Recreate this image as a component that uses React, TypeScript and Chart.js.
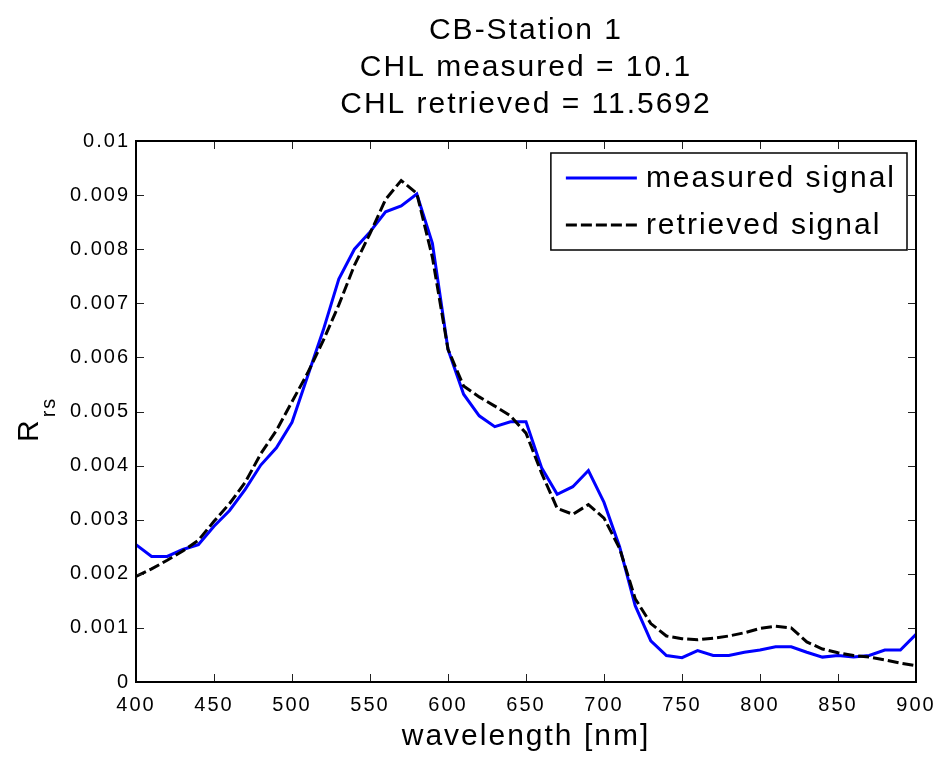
import React, { useEffect, useRef } from 'react';
import { Chart, registerables } from 'chart.js';

Chart.register(...registerables);

const wavelengths = [
  400, 410, 420, 430, 440, 450, 460, 470, 480, 490,
  500, 510, 520, 530, 540, 550, 560, 570, 580, 590,
  600, 610, 620, 630, 640, 650, 660, 670, 680, 690,
  700, 710, 720, 730, 740, 750, 760, 770, 780, 790,
  800, 810, 820, 830, 840, 850, 860, 870, 880, 890, 900,
];

const measuredSignal = [
  0.00254, 0.00232, 0.00232, 0.00245, 0.00254, 0.00288, 0.00317, 0.00356, 0.00401, 0.00433,
  0.0048, 0.00565, 0.0065, 0.00745, 0.008, 0.00832, 0.00869, 0.0088, 0.00902, 0.00811,
  0.00615, 0.00532, 0.00492, 0.00472, 0.00481, 0.00481, 0.00396, 0.00347, 0.00361, 0.00391,
  0.00332, 0.0025, 0.00141, 0.00076, 0.00049, 0.00045, 0.00058, 0.00049, 0.00049, 0.00055,
  0.00059, 0.00065, 0.00065, 0.00055, 0.00046, 0.00049, 0.00046, 0.00049, 0.00059, 0.00059, 0.00088,
];

const retrievedSignal = [
  0.00195, 0.00209, 0.00225, 0.00242, 0.00262, 0.00297, 0.0033, 0.00369, 0.00422, 0.00465,
  0.00518, 0.00571, 0.00631, 0.00697, 0.0077, 0.00829, 0.00892, 0.00927, 0.00903, 0.00785,
  0.00615, 0.00547, 0.00527, 0.0051, 0.00492, 0.0046, 0.00386, 0.00321, 0.0031, 0.00328,
  0.00303, 0.00247, 0.00154, 0.00108, 0.00085, 0.0008, 0.00078, 0.00081, 0.00085, 0.00091,
  0.00099, 0.00103, 0.001, 0.00074, 0.00061, 0.00054, 0.00049, 0.00046, 0.00041, 0.00035, 0.0003,
];

const xTickValues = [400, 450, 500, 550, 600, 650, 700, 750, 800, 850, 900];
const yTickValues = [0, 0.001, 0.002, 0.003, 0.004, 0.005, 0.006, 0.007, 0.008, 0.009, 0.01];
const yTickLabels = ['0', '0.001', '0.002', '0.003', '0.004', '0.005', '0.006', '0.007', '0.008', '0.009', '0.01'];

const titleLines = ['CB-Station 1', 'CHL measured = 10.1', 'CHL retrieved = 11.5692'];
const xAxisLabel = 'wavelength [nm]';
const yAxisLabelMain = 'R';
const yAxisLabelSub = 'rs';
const seriesLabels = ['measured signal', 'retrieved signal'];

const FONT = '"Liberation Sans", Arial, Helvetica, sans-serif';
const SPACING = '2px';

const matlabPlugin = {
  id: 'matlabDecor',
  beforeUpdate(chart: any) {
    chart.ctx.letterSpacing = SPACING;
  },
  beforeDraw(chart: any) {
    chart.ctx.letterSpacing = SPACING;
  },
  afterDraw(chart: any) {
    const { ctx, chartArea } = chart;
    const { left, right, top, bottom } = chartArea;
    const xs = chart.scales.x;
    const ys = chart.scales.y;
    ctx.save();
    ctx.letterSpacing = SPACING;

    // inward ticks on all four sides
    ctx.strokeStyle = '#222';
    ctx.lineWidth = 1;
    const tl = 8;
    ctx.beginPath();
    xTickValues.forEach((v) => {
      const px = Math.round(xs.getPixelForValue(v)) + 0.5;
      ctx.moveTo(px, bottom);
      ctx.lineTo(px, bottom - tl);
      ctx.moveTo(px, top);
      ctx.lineTo(px, top + tl);
    });
    yTickValues.forEach((v) => {
      const py = Math.round(ys.getPixelForValue(v)) + 0.5;
      ctx.moveTo(left, py);
      ctx.lineTo(left + tl, py);
      ctx.moveTo(right, py);
      ctx.lineTo(right - tl, py);
    });
    ctx.stroke();

    // frame
    ctx.strokeStyle = '#000';
    ctx.lineWidth = 2;
    ctx.strokeRect(left, top, right - left, bottom - top);

    // legend box (MATLAB style, top-right)
    ctx.font = `30px ${FONT}`;
    const textW = Math.max(...seriesLabels.map((s) => ctx.measureText(s).width));
    const boxRight = right - 9;
    const boxTop = top + 12;
    const sampleLen = 71;
    const boxLeft = boxRight - (15 + sampleLen + 8 + textW + 12);
    const boxH = 97;
    ctx.fillStyle = '#fff';
    ctx.fillRect(boxLeft, boxTop, boxRight - boxLeft, boxH);
    ctx.strokeStyle = '#000';
    ctx.lineWidth = 1.5;
    ctx.strokeRect(boxLeft, boxTop, boxRight - boxLeft, boxH);
    const rows = [boxTop + 25, boxTop + 72];
    chart.data.datasets.forEach((ds: any, i: number) => {
      const yRow = rows[i];
      ctx.save();
      ctx.strokeStyle = ds.borderColor;
      ctx.lineWidth = ds.borderWidth;
      ctx.setLineDash(ds.borderDash || []);
      ctx.beginPath();
      ctx.moveTo(boxLeft + 15, yRow);
      ctx.lineTo(boxLeft + 15 + sampleLen, yRow);
      ctx.stroke();
      ctx.restore();
      ctx.fillStyle = '#000';
      ctx.textAlign = 'left';
      ctx.textBaseline = 'middle';
      ctx.fillText(ds.label, boxLeft + 15 + sampleLen + 9, yRow + 1);
    });

    // y-axis label R_rs (rotated)
    ctx.save();
    ctx.translate(38, 442);
    ctx.rotate(-Math.PI / 2);
    ctx.fillStyle = '#000';
    ctx.textAlign = 'left';
    ctx.textBaseline = 'alphabetic';
    ctx.font = `30px ${FONT}`;
    ctx.fillText(yAxisLabelMain, 0, 0);
    const rW = ctx.measureText(yAxisLabelMain).width;
    ctx.font = `20px ${FONT}`;
    ctx.fillText(yAxisLabelSub, rW + 1, 17);
    ctx.restore();

    ctx.restore();
  },
};

export default function App() {
  const canvasRef = useRef<HTMLCanvasElement | null>(null);

  useEffect(() => {
    const canvas = canvasRef.current;
    if (!canvas) return;
    const chart = new Chart(canvas, {
      type: 'line',
      data: {
        datasets: [
          {
            label: seriesLabels[0],
            data: wavelengths.map((w, i) => ({ x: w, y: measuredSignal[i] })),
            borderColor: '#0000ff',
            borderWidth: 3,
            pointRadius: 0,
            tension: 0,
            fill: false,
            order: 1,
          },
          {
            label: seriesLabels[1],
            data: wavelengths.map((w, i) => ({ x: w, y: retrievedSignal[i] })),
            borderColor: '#000000',
            borderWidth: 3,
            borderDash: [11, 4],
            pointRadius: 0,
            tension: 0,
            fill: false,
            order: 0,
          },
        ],
      },
      options: {
        animation: false,
        responsive: false,
        devicePixelRatio: 1,
        layout: { padding: { left: 0, right: 21, top: 0, bottom: 0 } },
        plugins: {
          legend: { display: false },
          tooltip: { enabled: false },
          title: {
            display: true,
            text: titleLines,
            fullSize: false,
            color: '#000',
            font: { family: FONT, size: 30, weight: 'normal', lineHeight: 37 / 30 },
            padding: { top: 12, bottom: 18 },
          },
        },
        scales: {
          x: {
            type: 'linear',
            min: 400,
            max: 900,
            afterBuildTicks: (s: any) => {
              s.ticks = xTickValues.map((v) => ({ value: v }));
            },
            afterFit: (s: any) => {
              s.height = 76;
              s.paddingLeft = 0;
              s.paddingRight = 0;
            },
            grid: { display: false, drawTicks: false, tickLength: 0 },
            border: { display: false },
            ticks: {
              color: '#000',
              font: { family: FONT, size: 20 },
              padding: 11,
              maxRotation: 0,
              autoSkip: false,
              callback: (v: any) => String(v),
            },
            title: {
              display: true,
              text: xAxisLabel,
              color: '#000',
              font: { family: FONT, size: 30 },
              padding: { top: 0, bottom: 3 },
            },
          },
          y: {
            type: 'linear',
            min: 0,
            max: 0.01,
            afterBuildTicks: (s: any) => {
              s.ticks = yTickValues.map((v) => ({ value: v }));
            },
            afterFit: (s: any) => {
              s.width = 136;
              s.paddingTop = 0;
              s.paddingBottom = 0;
            },
            grid: { display: false, drawTicks: false, tickLength: 0 },
            border: { display: false },
            ticks: {
              color: '#000',
              font: { family: FONT, size: 20 },
              padding: 6,
              autoSkip: false,
              callback: (v: any) => {
                const idx = yTickValues.findIndex((t) => Math.abs(t - v) < 1e-9);
                return idx >= 0 ? yTickLabels[idx] : '';
              },
            },
          },
        },
      },
      plugins: [matlabPlugin],
    } as any);
    return () => chart.destroy();
  }, []);

  return (
    <div style={{ position: 'fixed', left: 0, top: 0, width: 937, height: 758, background: '#fff' }}>
      <canvas ref={canvasRef} width={937} height={758} style={{ width: 937, height: 758, display: 'block' }} />
    </div>
  );
}
